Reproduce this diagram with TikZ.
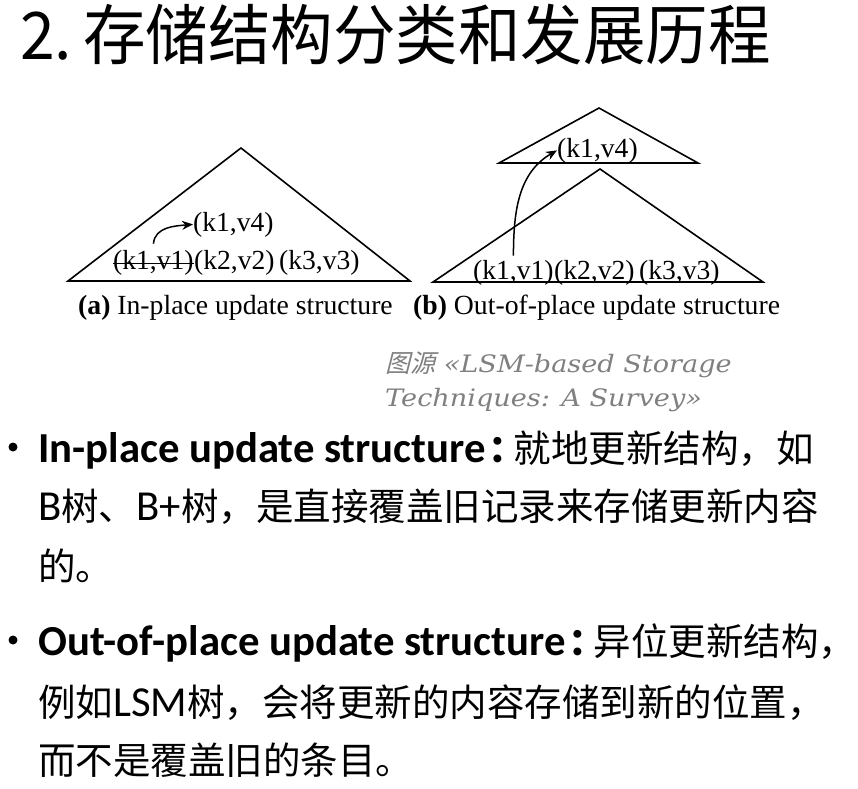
\documentclass[tikz,border=0pt]{standalone}
\usepackage{fontspec}
\setmainfont{Liberation Serif}
\newfontfamily\cjk{Noto Sans CJK SC}
\newfontfamily\lat[Scale=1.14]{Carlito}
\newfontfamily\citfont[FakeStretch=1.13]{DejaVu Serif}
\newfontfamily\cjkslant[FakeSlant=0.25]{Noto Sans CJK SC}
\usetikzlibrary{arrows.meta}
\newcommand{\bcolon}{\makebox[0.75em][l]{\hspace{0.08em}\textbf{：}}}
\begin{document}
\begin{tikzpicture}[x=1pt,y=-1pt,
  tri/.style={draw=black,line width=1.6pt,line join=miter},
  kv/.style={inner sep=0pt,anchor=base west,font=\fontsize{27.6}{30}\selectfont},
  figcap/.style={inner sep=0pt,anchor=base west,font=\fontsize{27.7}{30}\selectfont},
  arr/.style={draw=black,line width=1.5pt,-{Stealth[length=11pt,width=9pt]}},
  body/.style={inner sep=0pt,anchor=base west,font=\cjk\fontsize{37.5}{40}\selectfont},
  cit/.style={inner sep=0pt,anchor=base west,text=black!50,font=\citfont\itshape\fontsize{24}{26}\selectfont}]
\useasboundingbox[fill=white] (0,0) rectangle (858,788);

% title
\node[inner sep=0pt,anchor=base west,font=\cjk\fontsize{62.5}{64}\selectfont] (title) at (20,59) {\scalebox{1}[1.05]{2.\hspace{11pt}存储结构分类和发展历程}};

% (a) in-place
\draw[tri] (68,281) -- (241,148) -- (410,281) -- cycle;
\node[kv] (a11) at (113,269) {(k1,v1)};
\node[kv] (a23) at (a11.base east) {(k2,v2)\,(k3,v3)};
\draw[line width=1.3pt] ([yshift=-1pt]a11.west) -- ([yshift=-1pt]a11.east);
\node[kv] (a14) at (193,231) {(k1,v4)};
\draw[arr] ([yshift=6pt]a11.north) to[out=85,in=185] (a14.west);
\node[figcap] (capa) at (78,314) {\textbf{(a)} In-place update structure};

% (b) out-of-place
\draw[tri] (433,282) -- (600,169) -- (763,282) -- cycle;
\draw[tri] (499,163) -- (599,108) -- (698,163) -- cycle;
\node[kv] (b11) at (473,279) {(k1,v1)};
\node[kv] (b23) at (b11.base east) {(k2,v2)\,(k3,v3)};
\node[kv] (b14) at (557,157) {(k1,v4)};
\draw[arr] ([yshift=4pt]b11.north) to[out=90,in=210] (b14.west);
\node[figcap] (capb) at (413,314) {\textbf{(b)} Out-of-place update structure};

% citation
\node[cit] (cit1) at (385,372) {{\cjkslant\fontsize{25}{26}\selectfont 图源}\ «LSM-based Storage};
\node[cit] (cit2) at (385,406) {Techniques: A Survey»};

% bullets
\fill (13,447) circle (4.5pt);
\node[body] (l1) at (38,462) {{\lat\bfseries In-place update structure}\bcolon 就地更新结构，如};
\node[body] (l2) at (38,520) {{\lat B}树、{\lat B+}树，是直接覆盖旧记录来存储更新内容};
\node[body] (l3) at (38,580) {的。};
\fill (13,640) circle (4.5pt);
\node[body] (m1) at (38,655) {{\lat\bfseries Out-of-place update structure}\bcolon 异位更新结构\makebox[0.35em][l]{，}};
\node[body] (m2) at (38,716) {例如{\lat LSM}树，会将更新的内容存储到新的位置，};
\node[body] (m3) at (38,774) {而不是覆盖旧的条目。};
\end{tikzpicture}
\end{document}
